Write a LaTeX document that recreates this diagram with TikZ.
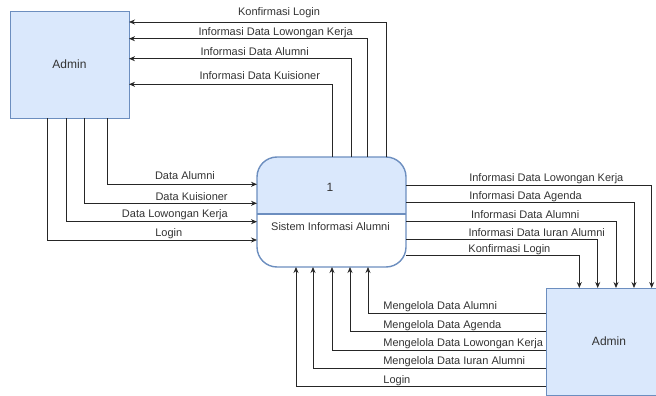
\documentclass[tikz,border=0pt]{standalone}
\usepackage{fontspec}
\setmainfont{Liberation Sans}
\usetikzlibrary{arrows.meta}
\definecolor{bfill}{HTML}{DAE8FC}
\definecolor{bline}{HTML}{6C8EBF}
\definecolor{tcol}{HTML}{333333}
\begin{document}
\begin{tikzpicture}[x=1pt,y=-1pt,
  font=\fontsize{11pt}{13pt}\selectfont,
  ent/.style={draw=bline, fill=bfill, line width=0.9pt, outer sep=0pt, inner sep=0pt, text=tcol, font=\fontsize{12pt}{14pt}\selectfont},
  proc/.style={draw=bline, fill=white, line width=1.4pt, rounded corners=20pt, outer sep=0pt, inner sep=0pt, minimum width=149pt, minimum height=110pt},
  flow/.style={draw=black!85, line width=0.8pt, -{Stealth[length=6pt,width=5pt]}},
  lbl/.style={text=tcol, inner sep=0pt, anchor=base},
  lblw/.style={text=tcol, inner sep=0pt, anchor=base west},
  txt/.style={text=tcol, inner sep=0pt}]

\useasboundingbox (0,0) rectangle (656,396);

% external entities
\node[ent, minimum width=119pt, minimum height=107pt] (a1) at (69.5,64.5) {Admin};
\node[ent, minimum width=126pt, minimum height=107pt] (a2) at (609,341.5) {Admin};

% process
\node[proc, path picture={
    \fill[bfill, sharp corners] ([yshift=-2pt]path picture bounding box.west) rectangle (path picture bounding box.north east);
    \draw[bline, line width=1.4pt, sharp corners] ([yshift=-2pt]path picture bounding box.west) -- ([yshift=-2pt]path picture bounding box.east);
  }] (p) at (331.5,212) {};
\node[txt, font=\fontsize{12pt}{14pt}\selectfont] (pn) at (330,187) {1};
\node[txt] (pt) at (330.5,227) {Sistem Informasi Alumni};

% process -> admin (top left)
\draw[flow] (386,0 |- p.north) |- (a1.east |- 0,22) node[lbl,pos=0.708,yshift=6.5pt]{Konfirmasi Login};
\draw[flow] (367,0 |- p.north) |- (a1.east |- 0,38.7) node[lbl,pos=0.692,yshift=3.2pt]{Informasi Data Lowongan Kerja};
\draw[flow] (351,0 |- p.north) |- (a1.east |- 0,58.7) node[lbl,pos=0.717,yshift=3.5pt]{Informasi Data Alumni};
\draw[flow] (332,0 |- p.north) |- (a1.east |- 0,84.3) node[lbl,pos=0.678,yshift=4.8pt]{Informasi Data Kuisioner};

% admin (top left) -> process
\draw[flow] (107,0 |- a1.south) |- (p.west |- 0,184.3) node[lbl,pos=0.76,yshift=4.8pt]{Data Alumni};
\draw[flow] (84,0 |- a1.south) |- (p.west |- 0,203.3) node[lbl,pos=0.811,yshift=3.1pt]{Data Kuisioner};
\draw[flow] (66,0 |- a1.south) |- (p.west |- 0,221.7) node[lbl,pos=0.785,yshift=4.2pt]{Data Lowongan Kerja};
\draw[flow] (47,0 |- a1.south) |- (p.west |- 0,240) node[lbl,pos=0.79,yshift=3.8pt]{Login};

% process -> admin (bottom right)
\draw[flow] (p.east |- 0,185) -| (651.7,0 |- a2.north) node[lblw,pos=0.128,yshift=3.5pt]{Informasi Data Lowongan Kerja};
\draw[flow] (p.east |- 0,202.7) -| (634,0 |- a2.north) node[lblw,pos=0.138,yshift=3pt]{Informasi Data Agenda};
\draw[flow] (p.east |- 0,221) -| (616,0 |- a2.north) node[lblw,pos=0.154,yshift=3pt]{Informasi Data Alumni};
\draw[flow] (p.east |- 0,239.3) -| (597.7,0 |- a2.north) node[lblw,pos=0.162,yshift=3pt]{Informasi Data Iuran Alumni};
\draw[flow] (p.east |- 0,255.3) -| (579.3,0 |- a2.north) node[lblw,pos=0.179,yshift=3.3pt]{Konfirmasi Login};

% admin (bottom right) -> process
\draw[flow] (a2.west |- 0,313.3) -| (368,0 |- p.south) node[lblw,pos=0.458,yshift=3.5pt]{Mengelola Data Alumni};
\draw[flow] (a2.west |- 0,331.7) -| (350,0 |- p.south) node[lblw,pos=0.416,yshift=3.2pt]{Mengelola Data Agenda};
\draw[flow] (a2.west |- 0,350) -| (332,0 |- p.south) node[lblw,pos=0.381,yshift=3.5pt]{Mengelola Data Lowongan Kerja};
\draw[flow] (a2.west |- 0,368.7) -| (313,0 |- p.south) node[lblw,pos=0.350,yshift=4pt]{Mengelola Data Iuran Alumni};
\draw[flow] (a2.west |- 0,386.7) -| (296,0 |- p.south) node[lblw,pos=0.326,yshift=3.5pt]{Login};
\end{tikzpicture}
\end{document}
